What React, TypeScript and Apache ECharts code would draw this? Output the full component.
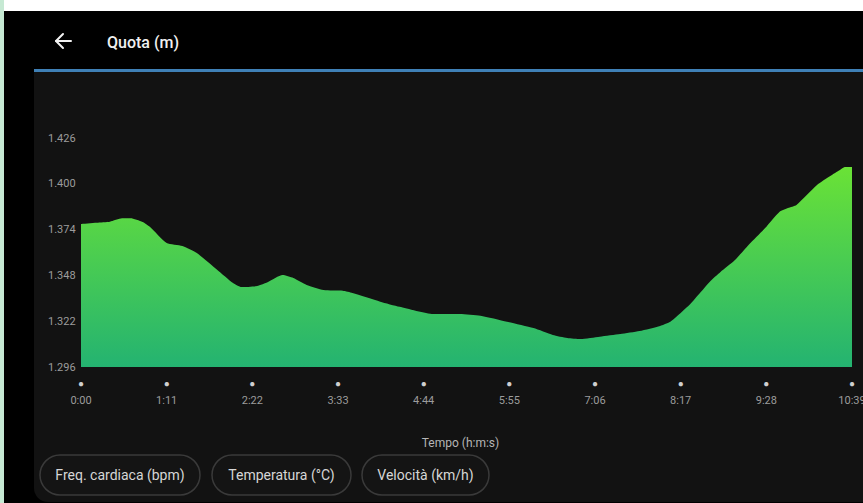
import React, { useEffect, useRef } from "react";
import * as echarts from "echarts";

// elapsed time (seconds) and altitude (m)
const timeSec = [0, 13, 24, 34, 41, 51, 57, 71, 84, 96, 113, 126, 133, 146, 155, 167, 176, 187, 201, 217, 225, 248, 264, 292, 314, 331, 353, 375, 391, 403, 414, 430, 447, 463, 480, 488, 496, 505, 513, 521, 530, 542, 554, 567, 579, 586, 593, 610, 621, 629, 633, 639];
const altitude = [1377.2, 1377.9, 1378.5, 1380.4, 1380.4, 1378.3, 1375.6, 1366.4, 1364.7, 1360.7, 1351.1, 1343.7, 1341.4, 1342.0, 1344.3, 1348.2, 1346.5, 1342.6, 1339.7, 1339.3, 1338.0, 1333.1, 1330.2, 1326.1, 1326.1, 1325.1, 1321.7, 1318.1, 1314.2, 1312.5, 1311.9, 1313.2, 1314.7, 1316.4, 1319.3, 1321.5, 1326.1, 1331.8, 1338.0, 1344.3, 1349.9, 1356.7, 1365.8, 1374.9, 1384.2, 1386.3, 1388.0, 1399.3, 1404.4, 1407.8, 1409.5, 1409.5];

const yTicks = [1296, 1322, 1348, 1374, 1400, 1426];
const xTickStep = 71;
const xMax = 639;

const title = "Quota (m)";
const xAxisName = "Tempo (h:m:s)";
const chips = ["Freq. cardiaca (bpm)", "Temperatura (°C)", "Velocità (km/h)"];

const FONT = "Roboto, 'Noto Sans', sans-serif";

function fmtTime(v: number) {
  const m = Math.floor(v / 60);
  const s = Math.round(v % 60);
  return m + ":" + (s < 10 ? "0" + s : String(s));
}

export default function App() {
  const ref = useRef<HTMLDivElement>(null);
  useEffect(() => {
    if (!ref.current) return;
    const chart = echarts.init(ref.current, undefined, { renderer: "svg" });
    const chipBoxes = [
      { x: 40, w: 160 },
      { x: 212, w: 139 },
      { x: 362, w: 127 },
    ];
    const arrowStyle = { stroke: "#f2f2f2", lineWidth: 2, lineCap: "round", lineJoin: "round", fill: "none" };
    const graphics: any[] = [
      { type: "rect", z: -10, shape: { x: 0, y: 0, width: 4, height: 503 }, style: { fill: "#c6e9d3" } },
      { type: "rect", z: -10, shape: { x: 4, y: 0, width: 859, height: 11 }, style: { fill: "#ffffff" } },
      { type: "rect", z: -9, shape: { x: 34, y: 72, width: 829, height: 430, r: [0, 0, 0, 14] }, style: { fill: "#121212" } },
      { type: "rect", z: -8, shape: { x: 34, y: 69, width: 829, height: 3 }, style: { fill: "#3f80b6" } },
      { type: "line", z: 5, shape: { x1: 56, y1: 41, x2: 71, y2: 41 }, style: arrowStyle },
      { type: "polyline", z: 5, shape: { points: [[63, 34], [56, 41], [63, 48]] }, style: arrowStyle },
      { type: "text", z: 5, x: 107, y: 42, style: { text: title, fill: "#f0f0f0", font: "500 16px " + FONT, align: "left", verticalAlign: "middle" } },
    ];
    chips.forEach((c, i) => {
      const b = chipBoxes[i];
      graphics.push({ type: "rect", z: -7, shape: { x: b.x, y: 455, width: b.w, height: 40, r: 20 }, style: { fill: "#141414", stroke: "#3a3a3a", lineWidth: 1.5 } });
      graphics.push({ type: "text", z: 5, x: b.x + b.w / 2, y: 475, style: { text: c, fill: "#d6d6d6", font: "14px " + FONT, align: "center", verticalAlign: "middle" } });
    });

    chart.setOption({
      animation: false,
      backgroundColor: "#000000",
      graphic: graphics,
      grid: { left: 81, right: 11, top: 138, bottom: 136, containLabel: false, outerBoundsMode: "none" },
      xAxis: {
        type: "value",
        min: 0,
        max: xMax,
        interval: xTickStep,
        name: xAxisName,
        nameLocation: "middle",
        nameGap: 70,
        nameTextStyle: { color: "#b5b5b5", fontSize: 12, fontFamily: FONT, padding: [0, 12, 0, 0] },
        axisLine: { show: false },
        axisTick: { show: false },
        splitLine: { show: false },
        axisLabel: {
          margin: 6,
          hideOverlap: false,
          formatter: (v: number) => "{d|●}\n{t|" + fmtTime(v) + "}",
          rich: {
            d: { color: "#cfcfcf", fontSize: 10, lineHeight: 20, align: "center" },
            t: { color: "#9c9c9c", fontSize: 11, lineHeight: 14, fontFamily: FONT, align: "center" },
          },
        },
      },
      yAxis: {
        type: "value",
        min: yTicks[0],
        max: yTicks[yTicks.length - 1],
        interval: yTicks[1] - yTicks[0],
        axisLine: { show: false },
        axisTick: { show: false },
        splitLine: { show: false },
        axisLabel: {
          align: "left",
          margin: 33,
          color: "#9c9c9c",
          fontSize: 11,
          fontFamily: FONT,
          formatter: (v: number) => (v / 1000).toFixed(3),
        },
      },
      series: [
        {
          type: "line",
          data: timeSec.map((t, i) => [t, altitude[i]]),
          showSymbol: false,
          smooth: 0.2,
          lineStyle: { width: 0 },
          areaStyle: {
            opacity: 1,
            color: new echarts.graphic.LinearGradient(0, 0, 0, 1, [
              { offset: 0, color: "#6ae236" },
              { offset: 1, color: "#24b371" },
            ]),
          },
        },
      ],
    });
    return () => chart.dispose();
  }, []);
  return <div ref={ref} style={{ position: "fixed", left: 0, top: 0, width: 863, height: 503 }} />;
}
